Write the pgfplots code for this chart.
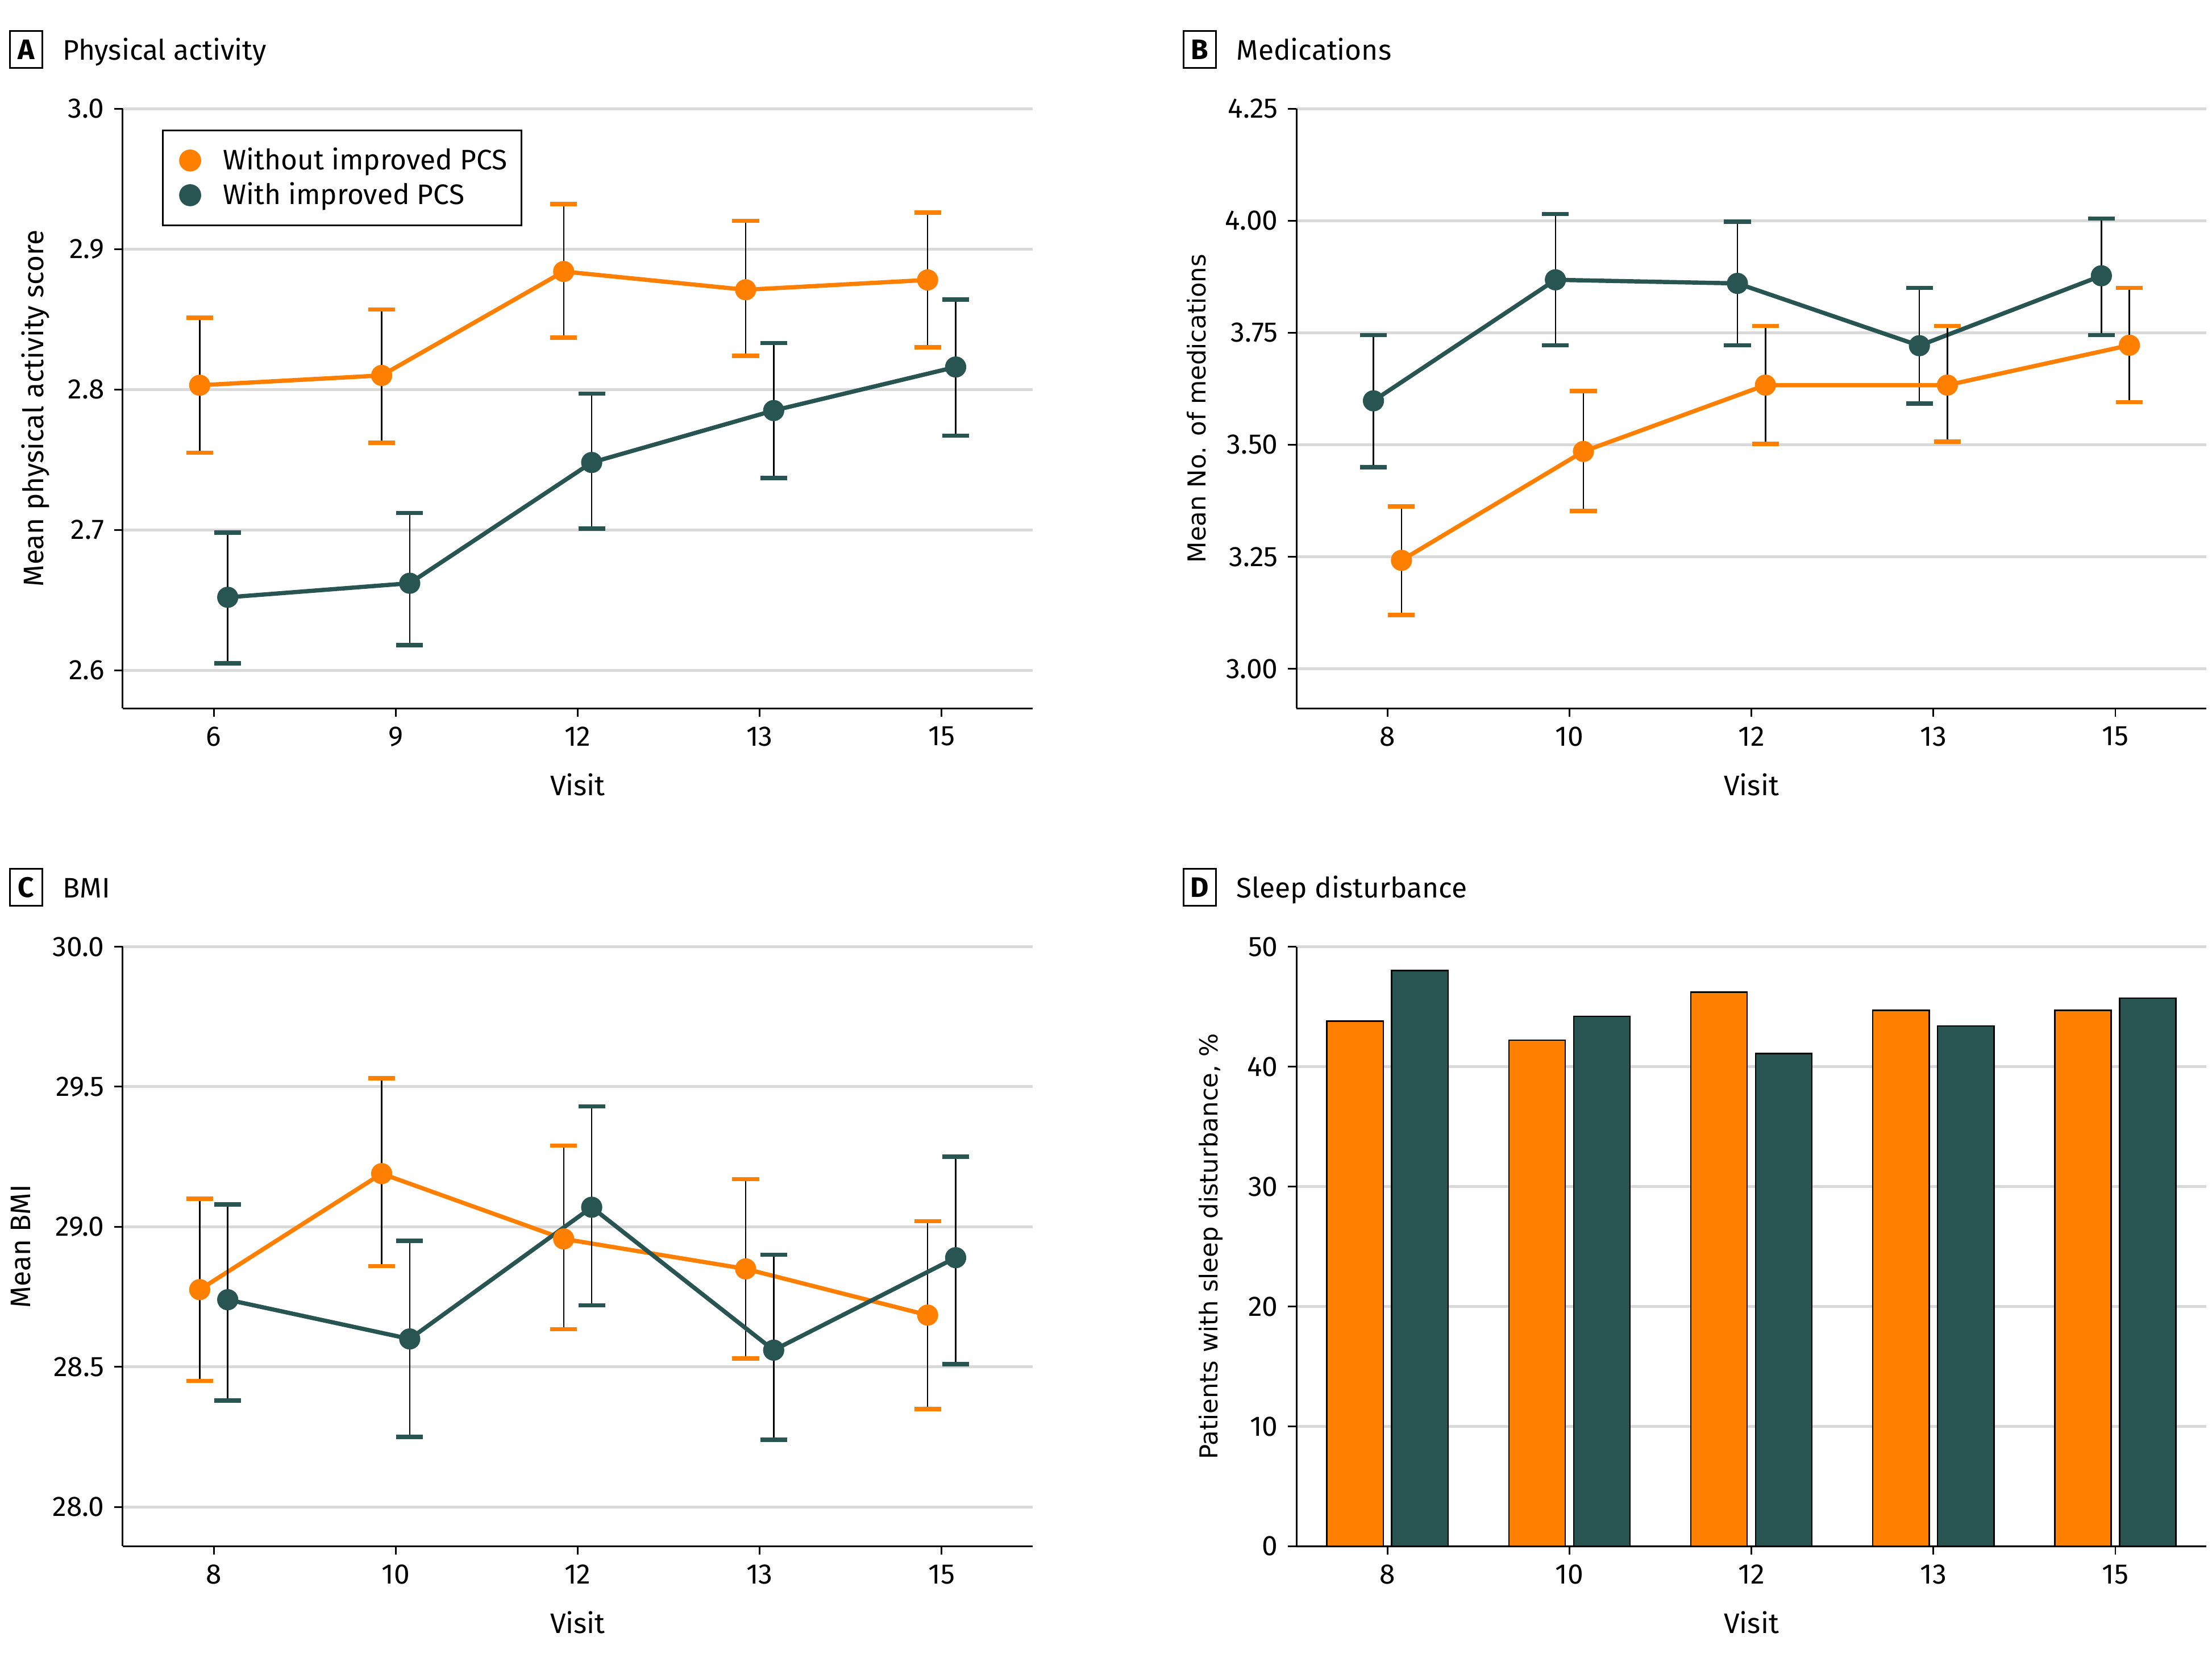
\documentclass[border=0pt]{standalone}
\usepackage{fontspec}
\setmainfont{Fira Sans}
\newfontfamily\dejavu{DejaVu Sans}
\usepackage{pgfplots}
\usepackage{pgfplotstable}
\pgfplotsset{compat=1.18}

\definecolor{orng}{RGB}{255,128,0}
\definecolor{tealc}{RGB}{40,84,82}
\definecolor{gridc}{RGB}{217,217,217}

\newcommand{\fs}{\fontsize{10}{12}\selectfont}
\newcommand{\fd}{\dejavu\fontsize{8.75}{10.5}\selectfont}

% panel A: physical activity (pos = category index, lo/hi = error bar ends)
\pgfplotstableread{
pos y lo hi
0 2.803 2.755 2.851
1 2.810 2.762 2.857
2 2.884 2.837 2.932
3 2.871 2.824 2.920
4 2.878 2.830 2.926
}\Aorange
\pgfplotstableread{
pos y lo hi
0 2.652 2.605 2.698
1 2.662 2.618 2.712
2 2.748 2.701 2.797
3 2.785 2.737 2.833
4 2.816 2.767 2.864
}\Ateal
% panel B: medications
\pgfplotstableread{
pos y lo hi
0 3.598 3.450 3.745
1 3.868 3.722 4.015
2 3.860 3.722 3.998
3 3.721 3.592 3.850
4 3.877 3.745 4.005
}\Bteal
\pgfplotstableread{
pos y lo hi
0 3.242 3.120 3.362
1 3.485 3.352 3.620
2 3.633 3.502 3.765
3 3.633 3.507 3.765
4 3.722 3.595 3.850
}\Borange
% panel C: BMI
\pgfplotstableread{
pos y lo hi
0 28.776 28.45 29.10
1 29.190 28.86 29.53
2 28.957 28.635 29.29
3 28.850 28.53 29.17
4 28.685 28.35 29.02
}\Corange
\pgfplotstableread{
pos y lo hi
0 28.74 28.38 29.08
1 28.60 28.25 28.95
2 29.07 28.72 29.43
3 28.56 28.24 28.90
4 28.89 28.51 29.25
}\Cteal
% panel D: sleep disturbance, %
\pgfplotstableread{
pos without with
0 43.8 48.0
1 42.2 44.2
2 46.2 41.1
3 44.7 43.4
4 44.7 45.7
}\Dbars

\pgfplotsset{
  panel/.style={
    scale only axis, width=322.5pt, height=212.5pt,
    axis x line=bottom, axis y line=left,
    axis line style={-, line width=0.6pt, black},
    xmin=-0.5, xmax=4.5, xtick={0,...,4},
    tick align=outside, major tick length=3pt,
    tick style={line width=0.6pt, black},
    ymajorgrids, grid style={gridc, line width=1pt},
    ticklabel style={font=\fs},
    /pgf/number format/assume math mode=true,
    xlabel={Visit}, label style={font=\fs},
    every axis x label/.style={at={(axis description cs:0.5,-0.127)}, anchor=center},
  },
  ylab/.style={every axis y label/.style={at={(axis description cs:#1,0.5)}, rotate=90, anchor=center}},
  ser/.style={color=#1, line width=1.5pt, mark=*, mark size=3.6pt,
    mark options={line width=0.3pt},
    error bars/y dir=both, error bars/y explicit,
    error bars/error bar style={line width=0.5pt, black},
    error bars/error mark options={rotate=90, line width=1.5pt, mark size=4.75pt, draw=#1}},
}

\begin{document}
\begin{tikzpicture}
\useasboundingbox (0,0) rectangle (784pt,589pt);

% panel letters and titles
\foreach \x/\y/\l/\t in {0/0/A/Physical activity, 416/0/B/Medications, 0/297/C/BMI, 416/297/D/Sleep disturbance}{
  \node[draw, line width=0.6pt, minimum width=11.5pt, minimum height=13pt, inner sep=0pt,
        font=\bfseries\fs] at (9.25pt+\x pt, 571.5pt-\y pt) {\l};
  \node[anchor=base west, inner sep=0pt, font=\fs] at (22pt+\x pt, 567.75pt-\y pt) {\t};
}

% A
\begin{axis}[panel, at={(43.5pt,338pt)}, anchor=south west,
  xticklabels={6,9,12,13,15},
  ymin=2.573, ymax=3.0, ytick={2.6,2.7,...,3.0},
  yticklabel style={/pgf/number format/.cd, fixed, fixed zerofill, precision=1},
  ylab=-0.096, ylabel={Mean physical activity score},
  legend style={at={(axis description cs:0.0434,0.965)}, anchor=north west,
    draw=black, line width=0.6pt, font=\fs, inner xsep=3pt, inner ysep=4pt,
    row sep=-1pt},
  legend cell align=left,
  legend image code/.code={\fill[#1] (0pt,0pt) circle (3.6pt); \path (-6.3pt,0pt) (9.3pt,0pt);}]
\addlegendimage{orng}
\addlegendentry{Without improved PCS}
\addlegendimage{tealc}
\addlegendentry{With improved PCS}
\addplot[ser=orng, forget plot] table[x expr=\thisrow{pos}-0.077, y=y,
  y error plus expr=\thisrow{hi}-\thisrow{y}, y error minus expr=\thisrow{y}-\thisrow{lo}]{\Aorange};
\addplot[ser=tealc, forget plot] table[x expr=\thisrow{pos}+0.077, y=y,
  y error plus expr=\thisrow{hi}-\thisrow{y}, y error minus expr=\thisrow{y}-\thisrow{lo}]{\Ateal};
\end{axis}

% B
\begin{axis}[panel, at={(459.5pt,338pt)}, anchor=south west,
  xticklabels={8,10,12,13,15},
  ymin=2.912, ymax=4.25, ytick={3,3.25,...,4.25},
  yticklabel style={/pgf/number format/.cd, fixed, fixed zerofill, precision=2},
  ylab=-0.110, ylabel={\fd Mean No. of medications}]
\addplot[ser=tealc] table[x expr=\thisrow{pos}-0.077, y=y,
  y error plus expr=\thisrow{hi}-\thisrow{y}, y error minus expr=\thisrow{y}-\thisrow{lo}]{\Bteal};
\addplot[ser=orng] table[x expr=\thisrow{pos}+0.077, y=y,
  y error plus expr=\thisrow{hi}-\thisrow{y}, y error minus expr=\thisrow{y}-\thisrow{lo}]{\Borange};
\end{axis}

% C
\begin{axis}[panel, at={(43.5pt,41pt)}, anchor=south west,
  xticklabels={8,10,12,13,15},
  ymin=27.86, ymax=30, ytick={28,28.5,...,30},
  yticklabel style={/pgf/number format/.cd, fixed, fixed zerofill, precision=1},
  ylab=-0.112, ylabel={Mean BMI}]
\addplot[ser=orng] table[x expr=\thisrow{pos}-0.077, y=y,
  y error plus expr=\thisrow{hi}-\thisrow{y}, y error minus expr=\thisrow{y}-\thisrow{lo}]{\Corange};
\addplot[ser=tealc] table[x expr=\thisrow{pos}+0.077, y=y,
  y error plus expr=\thisrow{hi}-\thisrow{y}, y error minus expr=\thisrow{y}-\thisrow{lo}]{\Cteal};
\end{axis}

% D
\begin{axis}[panel, at={(459.5pt,41pt)}, anchor=south west,
  xticklabels={8,10,12,13,15},
  ymin=0, ymax=50, ytick={0,10,...,50},
  ylab=-0.094, ylabel={\fd Patients with sleep disturbance, \%}]
\addplot[ybar, bar width=0.31, bar shift=-0.178, fill=orng, draw=black, line width=0.5pt]
  table[x=pos, y=without]{\Dbars};
\addplot[ybar, bar width=0.31, bar shift=0.178, fill=tealc, draw=black, line width=0.5pt]
  table[x=pos, y=with]{\Dbars};
\end{axis}
\end{tikzpicture}
\end{document}
